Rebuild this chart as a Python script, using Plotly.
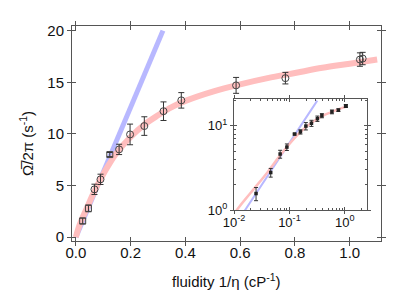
import plotly.graph_objects as go

# ---- data ----
x_sq = [0.025, 0.046, 0.124]
y_sq = [1.57, 2.79, 8.0]
e_sq = [0.28, 0.33, 0.2]

x_ci = [0.068, 0.090, 0.158, 0.198, 0.250, 0.320, 0.385, 0.585, 0.765, 1.037, 1.047]
y_ci = [4.63, 5.6, 8.5, 9.95, 10.76, 12.2, 13.25, 14.7, 15.4, 17.2, 17.3]
e_ci = [0.5, 0.5, 0.5, 1.0, 0.9, 0.9, 0.75, 0.77, 0.56, 0.65, 0.6]

red_x = [0, 0.01, 0.02, 0.04, 0.06, 0.08, 0.10, 0.12, 0.15, 0.20, 0.25, 0.30,
         0.35, 0.40, 0.50, 0.60, 0.70, 0.80, 0.90, 1.00, 1.10]
red_y = [0, 0.9, 1.6, 2.8, 4.0, 5.1, 6.1, 7.0, 8.2, 9.7, 10.9, 11.8,
         12.6, 13.2, 14.1, 14.8, 15.4, 15.9, 16.4, 16.8, 17.2]

blue_x = [0.0, 0.0159, 0.318]
blue_y = [0.0, 1.0, 20.0]

x_ticks = [0.0, 0.2, 0.4, 0.6, 0.8, 1.0]
x_tick_text = ["0.0", "0.2", "0.4", "0.6", "0.8", "1.0"]
y_ticks = [0, 5, 10, 15, 20]
in_x_ticks = [0.01, 0.1, 1]
in_x_text = ["10<sup>-2</sup>", "10<sup>-1</sup>", "10<sup>0</sup>"]
in_y_ticks = [1, 10]
in_y_text = ["10<sup>0</sup>", "10<sup>1</sup>"]

all_x = x_sq + x_ci
all_y = y_sq + y_ci
all_e = e_sq + e_ci

FONT = "Liberation Sans, Arial, sans-serif"
AX = "#555555"
BLUE = "rgb(184,184,255)"
RED = "rgb(255,190,190)"
MK = "#444444"

fig = go.Figure()

# main panel
fig.add_trace(go.Scatter(x=blue_x, y=blue_y, mode="lines",
                         line=dict(color=BLUE, width=5), xaxis="x", yaxis="y",
                         hoverinfo="skip"))
fig.add_trace(go.Scatter(x=red_x, y=red_y, mode="lines",
                         line=dict(color=RED, width=6, shape="spline"),
                         xaxis="x", yaxis="y", hoverinfo="skip"))
fig.add_trace(go.Scatter(x=x_ci, y=y_ci, mode="markers",
                         marker=dict(symbol="circle-open", size=7,
                                     line=dict(color=MK, width=1), color=MK),
                         error_y=dict(type="data", array=e_ci, color="#333333",
                                      thickness=1, width=3),
                         xaxis="x", yaxis="y"))
fig.add_trace(go.Scatter(x=x_sq, y=y_sq, mode="markers",
                         marker=dict(symbol="square-open", size=6,
                                     line=dict(color=MK, width=1), color=MK),
                         error_y=dict(type="data", array=e_sq, color="#333333",
                                      thickness=1, width=3),
                         xaxis="x", yaxis="y"))

# inset panel
fig.add_trace(go.Scatter(x=blue_x, y=blue_y, mode="lines",
                         line=dict(color=BLUE, width=2), xaxis="x2", yaxis="y2",
                         hoverinfo="skip"))
fig.add_trace(go.Scatter(x=red_x, y=red_y, mode="lines",
                         line=dict(color=RED, width=2.5, shape="spline"),
                         xaxis="x2", yaxis="y2", hoverinfo="skip"))
fig.add_trace(go.Scatter(x=all_x, y=all_y, mode="markers",
                         marker=dict(symbol="square", size=3.5, color="#222222"),
                         error_y=dict(type="data", array=all_e, color="#333333",
                                      thickness=1, width=2),
                         xaxis="x2", yaxis="y2"))

# dummy traces for overlay axes giving crossing ticks
fig.add_trace(go.Scatter(x=[None], y=[None], xaxis="x3", yaxis="y3",
                         hoverinfo="skip"))
fig.add_trace(go.Scatter(x=[None], y=[None], xaxis="x4", yaxis="y4",
                         hoverinfo="skip"))

common = dict(showgrid=False, zeroline=False, linecolor=AX, linewidth=1,
              tickcolor=AX, tickwidth=1, tickfont=dict(family=FONT, size=15, color="#111"))

XR = [-0.014, 1.114]
YR = [-0.37, 20.45]
IXR = [-2.0, 0.4]
IYR = [0.0, 1.32]
IXD = [(226 - 64) / 309, (359 - 64) / 309]
IYD = [(233 - 202) / 215, (233 - 91) / 215]

fig.update_layout(
    width=415, height=291,
    margin=dict(l=64, r=42, t=18, b=58),
    paper_bgcolor="white", plot_bgcolor="rgba(0,0,0,0)",
    showlegend=False,
    font=dict(family=FONT, color="#111"),
    xaxis=dict(domain=[0, 1], range=XR, anchor="y", tickmode="array",
               tickvals=x_ticks, ticktext=x_tick_text, ticks="outside", ticklen=4,
               ticklabelstandoff=-6,
               showline=True, mirror="allticks", **common),
    yaxis=dict(domain=[0, 1], range=YR, anchor="x", tickmode="array",
               tickvals=y_ticks, ticks="outside", ticklen=4,
               showline=True, mirror="allticks", **common),
    xaxis3=dict(overlaying="x", range=XR, anchor="y3", tickmode="array",
                tickvals=x_ticks, ticks="inside", ticklen=4, showticklabels=False,
                showline=False, mirror="allticks", **common),
    yaxis3=dict(overlaying="y", range=YR, anchor="x3", tickmode="array",
                tickvals=y_ticks, ticks="inside", ticklen=4, showticklabels=False,
                showline=False, mirror="allticks", **common),
    xaxis2=dict(domain=IXD, type="log", range=IXR, anchor="y2", tickmode="array",
                tickvals=in_x_ticks, ticktext=in_x_text, ticks="outside", ticklen=3,
                ticklabelstandoff=-3,
                showline=True, mirror="allticks",
                minor=dict(tickvals=[2e-2, 3e-2, 4e-2, 5e-2, 6e-2, 7e-2, 8e-2, 9e-2,
                                     0.2, 0.3, 0.4, 0.5, 0.6, 0.7, 0.8, 0.9, 2],
                           ticks="inside", ticklen=2, tickcolor=AX),
                **{**common, "tickfont": dict(family=FONT, size=13, color="#111")}),
    yaxis2=dict(domain=IYD, type="log", range=IYR, anchor="x2", tickmode="array",
                tickvals=in_y_ticks, ticktext=in_y_text, ticks="outside", ticklen=3,
                showline=True, mirror="allticks",
                minor=dict(tickvals=[2, 3, 4, 5, 6, 7, 8, 9, 20],
                           ticks="inside", ticklen=2, tickcolor=AX),
                **{**common, "tickfont": dict(family=FONT, size=13, color="#111")}),
    xaxis4=dict(overlaying="x2", type="log", range=IXR, anchor="y4", tickmode="array",
                tickvals=in_x_ticks, ticks="inside", ticklen=3, showticklabels=False,
                showline=False, mirror="allticks", **common),
    yaxis4=dict(overlaying="y2", type="log", range=IYR, anchor="x4", tickmode="array",
                tickvals=in_y_ticks, ticks="inside", ticklen=3, showticklabels=False,
                showline=False, mirror="allticks", **common),
    annotations=[
        dict(text="fluidity 1/η (cP<sup>-1</sup>)", xref="paper", yref="paper",
             x=0.5, y=(233 - 272) / 215, xanchor="center", yanchor="middle",
             showarrow=False, font=dict(family=FONT, size=15, color="#111")),
        dict(text="Ω\u0305/2π (s<sup>-1</sup>)", xref="paper", yref="paper",
             x=(18 - 64) / 309, y=(233 - 136) / 215, xanchor="center", yanchor="middle",
             textangle=-90, showarrow=False,
             font=dict(family=FONT, size=15, color="#111")),
    ],
)

fig.write_html("out.html")
